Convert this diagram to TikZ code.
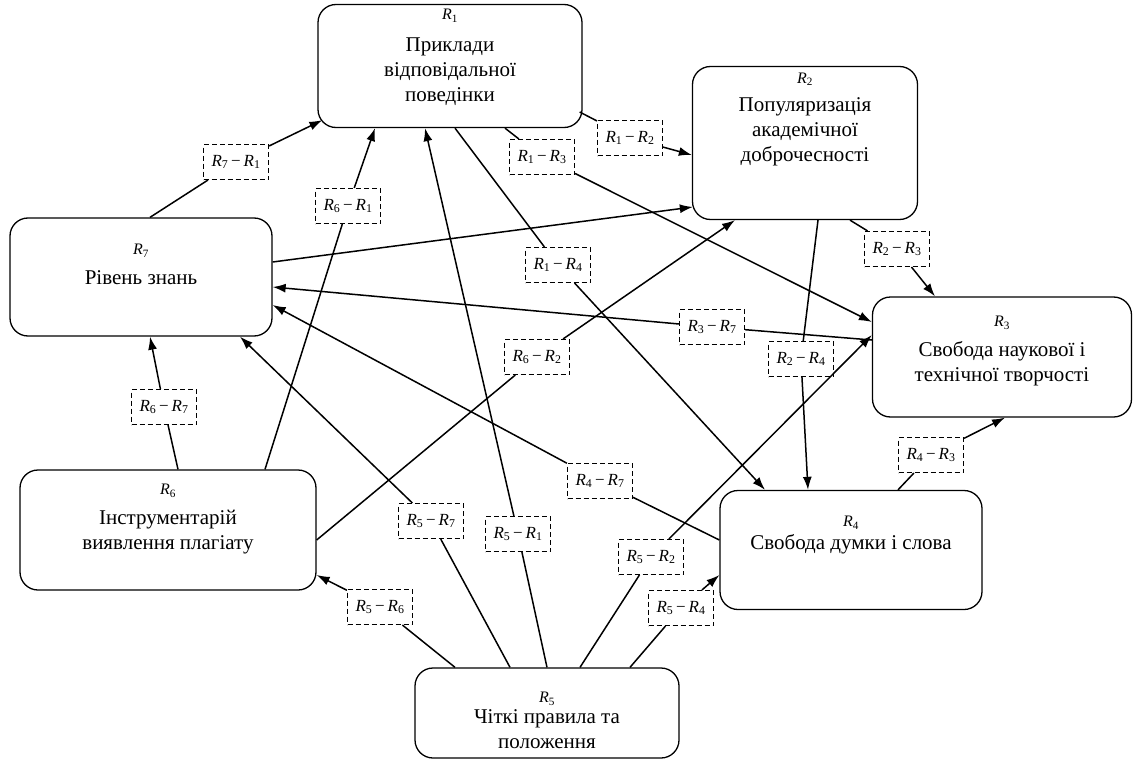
\documentclass[tikz,border=0pt]{standalone}
\usepackage{fontspec}
\setmainfont{Liberation Serif}
\usetikzlibrary{arrows.meta}

\newcommand{\rn}[1]{\textit{R}\textsubscript{#1}}
\newcommand{\rr}[2]{\rn{#1}\,−\,\rn{#2}}
\newcommand{\rhead}[1]{{\fontsize{16}{18}\selectfont\rn{#1}}}
\newcommand{\pad}[1]{\\[#1]\mbox{}}

\begin{document}
\begin{tikzpicture}[x = 1pt, y = -1pt, >={Latex[length=13pt,width=9pt]},
		blk/.style = {draw, line width = 1.3pt, rounded corners = 18pt, align = center, inner sep = 2pt, font = \fontsize{21}{25}\selectfont},
		lbl/.style = {draw, dash pattern = on 5pt off 3pt, line width = 1.1pt, fill = white, minimum width = 65, minimum height = 35, inner sep = 1pt, font = \fontsize{17}{18}\selectfont},
		con/.style = {line width = 1.5pt}]
			\useasboundingbox (0,0) rectangle (1133,760);
			
			% blocks
			\node[blk, minimum width = 264, minimum height = 123] (R1) at (450,66) {\rhead{1}\\[7pt]Приклади\\відповідальної\\поведінки\pad{-4pt}};
			\node[blk, minimum width = 225, minimum height = 153] (R2) at (805,143) {\rhead{2}\\[3pt]Популяризація\\академічної\\доброчесності\pad{27pt}};
			\node[blk, minimum width = 259, minimum height = 120] (R3) at (1002,357) {\rhead{3}\\[5pt]Свобода наукової і\\технічної творчості\pad{-9pt}};
			\node[blk, minimum width = 262, minimum height = 119] (R4) at (851,550) {\rhead{4}\\[-2pt]Свобода думки і слова\pad{9pt}};
			\node[blk, minimum width = 264, minimum height = 90] (R5) at (547,713) {\mbox{}\\[1pt]\rhead{5}\\[-4pt]Чіткі правила та\\положення};
			\node[blk, minimum width = 296, minimum height = 120] (R6) at (168,530) {\rhead{6}\\[5pt]Інструментарій\\виявлення плагіату\pad{1pt}};
			\node[blk, minimum width = 262, minimum height = 118] (R7) at (141,277) {\rhead{7}\\[5pt]Рівень знань\pad{0pt}};
			
			% edge labels
			\node[lbl] (L71) at (236,162) {\rr{7}{1}};
			\node[lbl] (L61) at (348,206) {\rr{6}{1}};
			\node[lbl] (L51) at (518,534) {\rr{5}{1}};
			\node[lbl] (L12) at (630,138) {\rr{1}{2}};
			\node[lbl] (L13) at (542,157) {\rr{1}{3}};
			\node[lbl] (L14) at (558,265) {\rr{1}{4}};
			\node[lbl] (L37) at (712,327) {\rr{3}{7}};
			\node[lbl] (L62) at (537,357) {\rr{6}{2}};
			\node[lbl] (L23) at (897,249) {\rr{2}{3}};
			\node[lbl] (L24) at (801,359) {\rr{2}{4}};
			\node[lbl] (L67) at (164,407) {\rr{6}{7}};
			\node[lbl] (L47) at (600,481) {\rr{4}{7}};
			\node[lbl] (L57) at (431,521) {\rr{5}{7}};
			\node[lbl] (L52) at (651,557) {\rr{5}{2}};
			\node[lbl] (L54) at (681,608) {\rr{5}{4}};
			\node[lbl] (L56) at (380,607) {\rr{5}{6}};
			\node[lbl] (L43) at (931,455) {\rr{4}{3}};
			
			% connectors
			\draw[con, ->] ([xshift = 9]R7.north) -- (L71) -- ([xshift = 5, yshift = 8]R1.south west);
			\draw[con, ->] ([xshift = 97]R6.north) -- (L61) -- ([xshift = -75]R1.south);
			\draw[con, ->] (R5.north) -- (L51) -- ([xshift = -25]R1.south);
			\draw[con, ->] ([xshift = -3, yshift = -46]R1.east) -- (L12) -- ([yshift = -12]R2.west);
			\draw[con, ->] ([xshift = 55]R1.south) -- (L13) -- ([yshift = 35]R3.west);
			\draw[con, ->] ([xshift = 5]R1.south) -- (L14) -- ([xshift = -86]R4.north);
			\draw[con, ->] ([yshift = 15]R7.east) -- ([xshift = 1, yshift = -64]R2.west);
			\draw[con, ->] ([yshift = 17]R3.west) -- (L37) -- ([yshift = -10]R7.east);
			\draw[con, ->] ([yshift = -10]R6.east) -- (L62) -- ([xshift = -70]R2.south);
			\draw[con, ->] ([xshift = 45]R2.south) -- (L23) -- ([xshift = -67]R3.north);
			\draw[con, ->] ([xshift = 13]R2.south) -- (L24) -- ([xshift = -43]R4.north);
			\draw[con, ->] ([xshift = 10]R6.north) -- (L67) -- ([xshift = 9]R7.south);
			\draw[con, ->] ([yshift = 10]R4.west) -- (L47) -- ([yshift = -28]R7.east);
			\draw[con, ->] ([xshift = -37]R5.north) -- (L57) -- ([xshift = 99]R7.south);
			\draw[con, ->] ([xshift = 33]R5.north) -- (L52) -- ([yshift = 22]R3.west);
			\draw[con, ->] ([xshift = 83]R5.north) -- (L54) -- ([yshift = -25]R4.west);
			\draw[con, ->] ([xshift = -92]R5.north) -- (L56) -- ([yshift = -45]R6.east);
			\draw[con, ->] ([xshift = 47]R4.north) -- (L43) -- ([xshift = 3]R3.south);
		\end{tikzpicture}
\end{document}
